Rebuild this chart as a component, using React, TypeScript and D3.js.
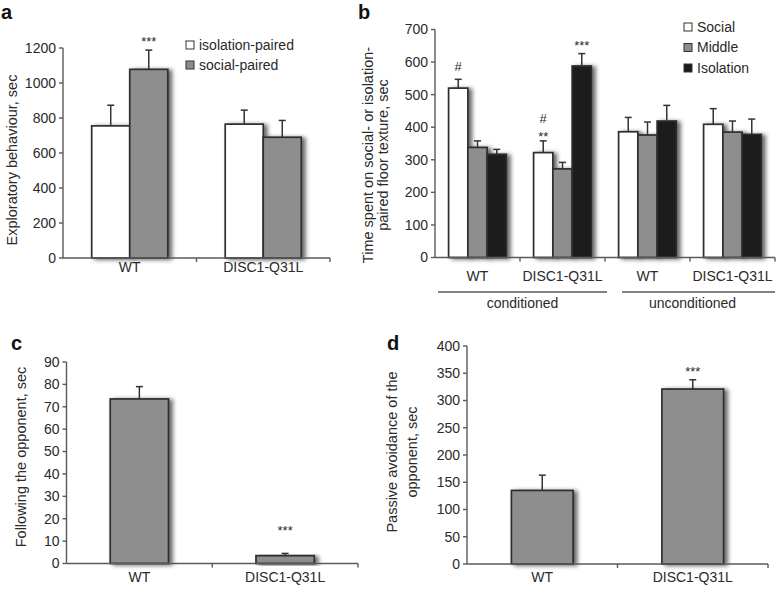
import React from "react";
import * as d3 from "d3";

const FONT = "'Liberation Sans', Arial, sans-serif";
const INK = "#2a2a2a";
const AXIS = "#5a5a5a";
const WHITE = "#ffffff";
const GREY = "#8e8e8e";
const BLACK = "#1b1b1b";

// panel a: exploratory behaviour
const aGroups = ["WT", "DISC1-Q31L"];
const aSeries = ["isolation-paired", "social-paired"];
const aMeans = [[755, 1078], [765, 690]];
const aErrs = [[118, 110], [80, 96]];
const aTicks = [0, 200, 400, 600, 800, 1000, 1200];

// panel b: time spent on floor texture
const bGroups = ["WT", "DISC1-Q31L", "WT", "DISC1-Q31L"];
const bConditions = ["conditioned", "unconditioned"];
const bSeries = ["Social", "Middle", "Isolation"];
const bMeans = [[520, 338, 317], [322, 272, 588], [386, 376, 419], [409, 385, 378]];
const bErrs = [[27, 20, 15], [36, 20, 38], [44, 40, 48], [48, 34, 47]];
const bTicks = [0, 100, 200, 300, 400, 500, 600, 700];

// panel c: following the opponent
const cGroups = ["WT", "DISC1-Q31L"];
const cMeans = [[73.5], [3.5]];
const cErrs = [[5.5], [1]];
const cTicks = [0, 10, 20, 30, 40, 50, 60, 70, 80, 90];

// panel d: passive avoidance
const dGroups = ["WT", "DISC1-Q31L"];
const dMeans = [[135], [321]];
const dErrs = [[28], [17]];
const dTicks = [0, 50, 100, 150, 200, 250, 300, 350, 400];

type Note = { g: number; s: number; text: string; dy: number };

function BarPanel(props: any) {
  const { left, right, top, bottom, ticks, groups, means, errs, fills, barFrac, notes, labelY } = props;
  const yMax = ticks[ticks.length - 1];
  const y = d3.scaleLinear().domain([0, yMax]).range([bottom, top]);
  const x = d3.scaleBand<number>().domain(d3.range(groups.length)).range([left, right]);
  const nS = means[0].length;
  const po = (nS * (1 - barFrac)) / (2 * barFrac);
  const inner = d3.scaleBand<number>().domain(d3.range(nS)).range([0, x.bandwidth()]).paddingInner(0).paddingOuter(po);
  const bw = inner.bandwidth();
  const bounds = d3.range(1, groups.length + 1).map((i) => left + i * x.step());

  return (
    <g>
      {means.map((row: number[], gi: number) =>
        row.map((v, si) => (
          <rect
            key={`bar-${gi}-${si}`}
            x={(x(gi) as number) + (inner(si) as number)}
            y={y(v)}
            width={bw}
            height={bottom - y(v)}
            fill={fills[si]}
            stroke="#2e2e2e"
            strokeWidth={1.7}
            filter="url(#shadow)"
          />
        ))
      )}
      {means.map((row: number[], gi: number) =>
        row.map((v, si) => {
          const cx = (x(gi) as number) + (inner(si) as number) + bw / 2;
          const yt = y(v + errs[gi][si]);
          return (
            <g key={`err-${gi}-${si}`} stroke="#333" strokeWidth={1.5}>
              <line x1={cx} x2={cx} y1={y(v)} y2={yt} />
              <line x1={cx - 3.5} x2={cx + 3.5} y1={yt} y2={yt} />
            </g>
          );
        })
      )}
      {(notes || []).map((n: Note, i: number) => {
        const cx = (x(n.g) as number) + (inner(n.s) as number) + bw / 2;
        const yt = y(means[n.g][n.s] + errs[n.g][n.s]);
        return (
          <text key={`note-${i}`} x={cx} y={yt + n.dy} textAnchor="middle" fontSize={13} fill={INK}>
            {n.text}
          </text>
        );
      })}
      <g stroke={AXIS} strokeWidth={1.4}>
        <line x1={left} x2={left} y1={top} y2={bottom} />
        <line x1={left} x2={right} y1={bottom} y2={bottom} />
        {ticks.map((t: number) => (
          <line key={`yt-${t}`} x1={left - 4} x2={left} y1={y(t)} y2={y(t)} />
        ))}
        {bounds.map((b: number, i: number) => (
          <line key={`xt-${i}`} x1={b} x2={b} y1={bottom} y2={bottom + 4} />
        ))}
      </g>
      {ticks.map((t: number) => (
        <text key={`yl-${t}`} x={left - 7} y={y(t)} dy="0.35em" textAnchor="end" fontSize={14} fill={INK}>
          {t}
        </text>
      ))}
      {groups.map((g: string, i: number) => (
        <text
          key={`xl-${i}`}
          x={(x(i) as number) + x.bandwidth() / 2}
          y={labelY}
          textAnchor="middle"
          fontSize={14}
          fill={INK}
        >
          {g}
        </text>
      ))}
    </g>
  );
}

function YTitle({ x, y, lines }: { x: number[]; y: number; lines: string[] }) {
  return (
    <g>
      {lines.map((l, i) => (
        <text
          key={i}
          transform={`translate(${x[i]},${y}) rotate(-90)`}
          textAnchor="middle"
          fontSize={14.5}
          fill={INK}
        >
          {l}
        </text>
      ))}
    </g>
  );
}

function Legend({ x, y, gap, labels, fills }: any) {
  return (
    <g>
      {labels.map((l: string, i: number) => (
        <g key={l} transform={`translate(${x},${y + i * gap})`}>
          <rect x={0} y={-4} width={8} height={8} fill={fills[i]} stroke="#333" strokeWidth={1} />
          <text x={13} y={0} dy="0.35em" fontSize={14} fill={INK}>
            {l}
          </text>
        </g>
      ))}
    </g>
  );
}

export default function App() {
  const bLeft = 435;
  const bRight = 775;
  const bStep = (bRight - bLeft) / bGroups.length;
  const condSpans = [
    [bLeft + 3, bLeft + 2 * bStep + 2],
    [bLeft + 2 * bStep + 17, bRight],
  ];
  return (
    <svg
      width={778}
      height={589}
      viewBox="0 0 778 589"
      style={{ position: "absolute", left: 0, top: 0, background: "#fff" }}
      fontFamily={FONT}
    >
      <defs>
        <filter id="shadow" x="-30%" y="-10%" width="170%" height="130%">
          <feDropShadow dx={3.5} dy={1} stdDeviation={2.2} floodColor="#000" floodOpacity={0.6} />
        </filter>
      </defs>

      {/* panel letters */}
      <g fontWeight="bold" fontSize={20} fill="#111">
        <text x={1} y={19}>a</text>
        <text x={358} y={19}>b</text>
        <text x={11} y={350}>c</text>
        <text x={387} y={350}>d</text>
      </g>

      {/* a */}
      <BarPanel
        left={63}
        right={330}
        top={48}
        bottom={258}
        ticks={aTicks}
        groups={aGroups}
        means={aMeans}
        errs={aErrs}
        fills={[WHITE, GREY]}
        barFrac={0.57}
        labelY={272}
        notes={[{ g: 0, s: 1, text: "***", dy: -4 }]}
      />
      <Legend x={186} y={45} gap={20} labels={aSeries} fills={[WHITE, GREY]} />
      <YTitle x={[17]} y={160} lines={["Exploratory behaviour, sec"]} />

      {/* b */}
      <BarPanel
        left={bLeft}
        right={bRight}
        top={29.5}
        bottom={257.5}
        ticks={bTicks}
        groups={bGroups}
        means={bMeans}
        errs={bErrs}
        fills={[WHITE, GREY, BLACK]}
        barFrac={0.68}
        labelY={281}
        notes={[
          { g: 0, s: 0, text: "#", dy: -8 },
          { g: 1, s: 0, text: "**", dy: 0 },
          { g: 1, s: 0, text: "#", dy: -18 },
          { g: 1, s: 2, text: "***", dy: -4 },
        ]}
      />
      <Legend x={684} y={27} gap={20.5} labels={bSeries} fills={[WHITE, GREY, BLACK]} />
      <YTitle x={[373, 388]} y={155} lines={["Time spent on social- or isolation-", "paired floor texture, sec"]} />
      {bConditions.map((c, i) => {
        const [x1, x2] = condSpans[i];
        return (
          <g key={c}>
            <line x1={x1} x2={x2} y1={292} y2={292} stroke={AXIS} strokeWidth={1.4} />
            <text x={(x1 + x2) / 2 - (i === 0 ? 0 : 6)} y={308} textAnchor="middle" fontSize={14} fill={INK}>
              {c}
            </text>
          </g>
        );
      })}

      {/* c */}
      <BarPanel
        left={66.5}
        right={358}
        top={362}
        bottom={563.5}
        ticks={cTicks}
        groups={cGroups}
        means={cMeans}
        errs={cErrs}
        fills={[GREY]}
        barFrac={0.4}
        labelY={582}
        notes={[{ g: 1, s: 0, text: "***", dy: -18 }]}
      />
      <YTitle x={[26]} y={457} lines={["Following the opponent, sec"]} />

      {/* d */}
      <BarPanel
        left={467}
        right={768}
        top={346}
        bottom={564}
        ticks={dTicks}
        groups={dGroups}
        means={dMeans}
        errs={dErrs}
        fills={[GREY]}
        barFrac={0.41}
        labelY={582}
        notes={[{ g: 1, s: 0, text: "***", dy: -4 }]}
      />
      <YTitle x={[397, 417]} y={452} lines={["Passive avoidance of the", "opponent, sec"]} />
    </svg>
  );
}
